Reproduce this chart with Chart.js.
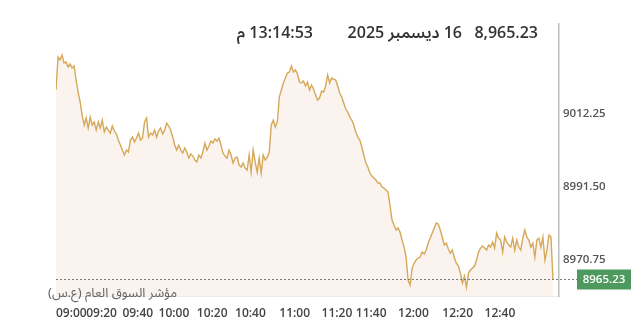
<!DOCTYPE html>
<html><head><meta charset="utf-8">
<script src="https://cdn.jsdelivr.net/npm/chart.js@4.4.1/dist/chart.umd.min.js"></script>
<style>
html,body{margin:0;padding:0;background:#fff;overflow:hidden;}
#wrap{position:relative;width:640px;height:333px;}
canvas{position:absolute;left:0;top:0;}
.hd{position:absolute;top:22px;font:600 16px 'Open Sans','Noto Sans Arabic',sans-serif;color:#333;white-space:nowrap;line-height:20px;}
.wm{position:absolute;left:48px;top:284px;font:400 13px 'Noto Sans Arabic','Noto Sans','DejaVu Sans',sans-serif;color:#666;white-space:nowrap;line-height:18px;}
</style></head><body>
<div id="wrap">
<canvas id="c" width="640" height="333"></canvas>
<div class="hd" style="right:102px">8,965.23</div>
<div class="hd" dir="rtl" style="right:178px">16 ديسمبر 2025</div>
<div class="hd" dir="rtl" style="right:327px">13:14:53 م</div>
<div class="wm" dir="rtl">مؤشر السوق العام (ع.س)</div>
</div>
<script>
const lastValue = 8965.23;
const yTicks = [8970.75, 8991.50, 9012.25];
const xTickIndex = [0, 15, 33, 51, 70, 89, 111, 132, 149, 170, 192, 213];
const xTickLabels = ['09:00','09:20','09:40','10:00','10:20','10:40','11:00','11:20','11:40','12:00','12:20','12:40'];
const values = [
9018.85,9028.19,9027.34,9028.75,9026.49,9026.77,9025.36,9026.21,9025.07,9025.64,
9021.68,9018.28,9015.45,9011.77,9008.94,9010.92,9008.09,9011.20,9008.94,9009.79,
9007.52,9009.79,9008.09,9010.35,9006.96,9008.37,9007.52,9006.67,9008.66,9007.24,
9006.39,9004.69,9003.28,9001.86,9000.45,9001.86,9001.30,9004.69,9005.54,9004.13,
9005.26,9006.67,9004.69,9005.26,9009.79,9010.92,9005.54,9006.67,9006.11,9007.52,
9005.54,9007.24,9008.09,9006.39,9007.52,9009.51,9008.66,9007.52,9005.54,9003.28,
9001.86,9003.28,9001.86,9001.01,9002.43,9001.30,8999.60,9000.73,9000.16,8999.03,
8998.47,9000.45,8999.60,9001.30,9003.84,9001.86,9002.99,9004.41,9003.84,9004.98,
9004.41,9005.26,9003.28,9001.01,9000.16,8999.60,9001.86,9000.45,8998.18,8999.60,
8999.88,8997.62,8997.05,8998.18,8996.77,8996.20,9000.45,8995.64,9001.86,8998.47,
8995.64,8999.60,8995.35,9000.45,8999.03,8999.88,9001.30,9008.94,9010.35,9008.37,
9009.79,9016.86,9018.85,9020.83,9022.24,9023.66,9023.94,9025.64,9023.94,9024.51,
9023.37,9021.11,9020.83,9021.39,9019.98,9021.11,9018.85,9020.26,9019.13,9017.43,
9016.02,9016.58,9018.56,9018.28,9019.98,9023.09,9020.83,9022.24,9021.96,9021.68,
9019.98,9018.00,9016.86,9015.17,9013.47,9012.62,9011.20,9010.35,9008.94,9006.96,
9005.54,9004.69,9002.71,9000.45,8998.18,8997.05,8995.35,8994.50,8993.94,8993.37,
8992.52,8992.52,8991.39,8991.11,8990.54,8989.97,8986.30,8982.05,8980.63,8979.22,
8979.79,8978.65,8976.39,8974.41,8971.58,8965.07,8963.65,8968.46,8969.88,8970.73,
8971.29,8971.58,8972.99,8972.43,8973.56,8975.54,8976.95,8978.37,8979.79,8981.20,
8980.92,8979.22,8977.24,8974.97,8975.54,8973.84,8972.71,8973.56,8971.29,8969.88,
8969.03,8967.05,8964.22,8966.20,8963.09,8967.05,8967.90,8968.46,8969.03,8970.73,
8972.99,8974.12,8974.69,8974.12,8973.56,8974.97,8974.41,8975.82,8974.12,8978.37,
8976.95,8976.39,8972.99,8977.24,8975.82,8974.97,8974.41,8976.95,8973.56,8976.39,
8974.41,8973.56,8976.95,8979.22,8977.24,8976.39,8974.41,8975.54,8971.58,8976.39,
8976.95,8974.41,8977.24,8970.73,8973.56,8977.80,8977.24,8965.23
];

const points = values.map((v, i) => ({ x: i, y: v }));

const lastPlugin = {
  id: 'lastValue',
  afterDatasetsDraw(chart) {
    const { ctx, chartArea, scales } = chart;
    const py = Math.round(scales.y.getPixelForValue(lastValue)) + 0.5;
    ctx.save();
    ctx.strokeStyle = '#7a7a7a';
    ctx.lineWidth = 1;
    ctx.setLineDash([2, 2]);
    ctx.beginPath();
    ctx.moveTo(chartArea.left, py);
    ctx.lineTo(577, py);
    ctx.stroke();
    ctx.setLineDash([]);
    ctx.fillStyle = '#4e9a5e';
    ctx.fillRect(577, py - 10, 54, 20);
    ctx.fillStyle = '#ffffff';
    ctx.font = '600 11.5px "Open Sans", sans-serif';
    ctx.textAlign = 'center';
    ctx.textBaseline = 'middle';
    ctx.fillText(lastValue.toFixed(2), 604, py + 0.5);
    ctx.restore();
  }
};

new Chart(document.getElementById('c'), {
  type: 'line',
  data: {
    datasets: [{
      data: points,
      borderColor: '#d6a85a',
      borderWidth: 1.4,
      pointRadius: 0,
      tension: 0,
      fill: 'start',
      backgroundColor: '#faf3ee'
    }]
  },
  options: {
    responsive: false,
    animation: false,
    layout: { padding: { left: 56, top: 24, right: 0, bottom: 0 } },
    plugins: { legend: { display: false }, tooltip: { enabled: false } },
    scales: {
      x: {
        type: 'linear',
        min: 0,
        max: 250,
        grid: { display: false, drawTicks: false },
        border: { display: true, color: '#ebebeb', width: 1 },
        afterBuildTicks(scale) { scale.ticks = xTickIndex.map(v => ({ value: v })); },
        afterFit(scale) { scale.height = 37; },
        ticks: {
          autoSkip: false,
          maxRotation: 0,
          align: 'start',
          padding: 10,
          color: '#444',
          font: { family: 'Open Sans', size: 12, weight: '600' },
          callback: (v) => xTickLabels[xTickIndex.indexOf(v)]
        }
      },
      y: {
        position: 'right',
        min: 8960.56,
        max: 9037.53,
        grid: { display: false, drawTicks: false },
        border: { display: true, color: '#bdbdbd', width: 1.5 },
        afterBuildTicks(scale) { scale.ticks = yTicks.map(v => ({ value: v })); },
        afterFit(scale) { scale.width = 81; },
        ticks: {
          padding: 4,
          color: '#555',
          font: { family: 'Open Sans', size: 11.5, weight: '600' },
          callback: (v) => Number(v).toFixed(2)
        }
      }
    }
  },
  plugins: [lastPlugin]
});
</script>
</body></html>
